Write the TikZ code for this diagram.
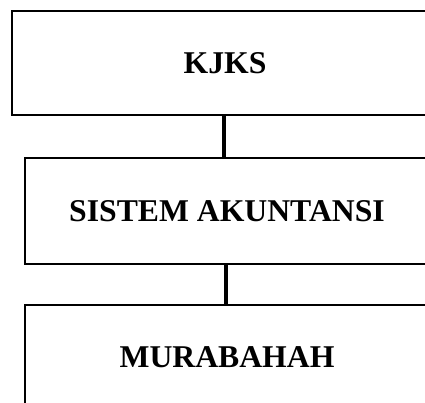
\documentclass[tikz,border=0pt]{standalone}
\usepackage{fontspec}
\setmainfont{Liberation Serif}
\begin{document}
\begin{tikzpicture}[x=1pt,y=-1pt,
  box/.style={draw=black,line width=2pt,inner sep=0pt,font=\fontsize{31.7}{36}\selectfont\bfseries},
  link/.style={draw=black,line width=3.6pt}]
\useasboundingbox (0,0) rectangle (425,403);
\clip (0,0) rectangle (425,403);
\node[box,minimum width=426pt,minimum height=104pt] (k) at (225,63) {KJKS};
\node[box,minimum width=404pt,minimum height=106pt] (s) at (227,211) {SISTEM AKUNTANSI};
\node[box,minimum width=404pt,minimum height=104pt] (m) at (227,357) {MURABAHAH};
\draw[link] ([xshift=-1pt]k.south) -- ([xshift=-3pt]s.north);
\draw[link] ([xshift=-1pt]s.south) -- ([xshift=-1pt]m.north);
\end{tikzpicture}
\end{document}
